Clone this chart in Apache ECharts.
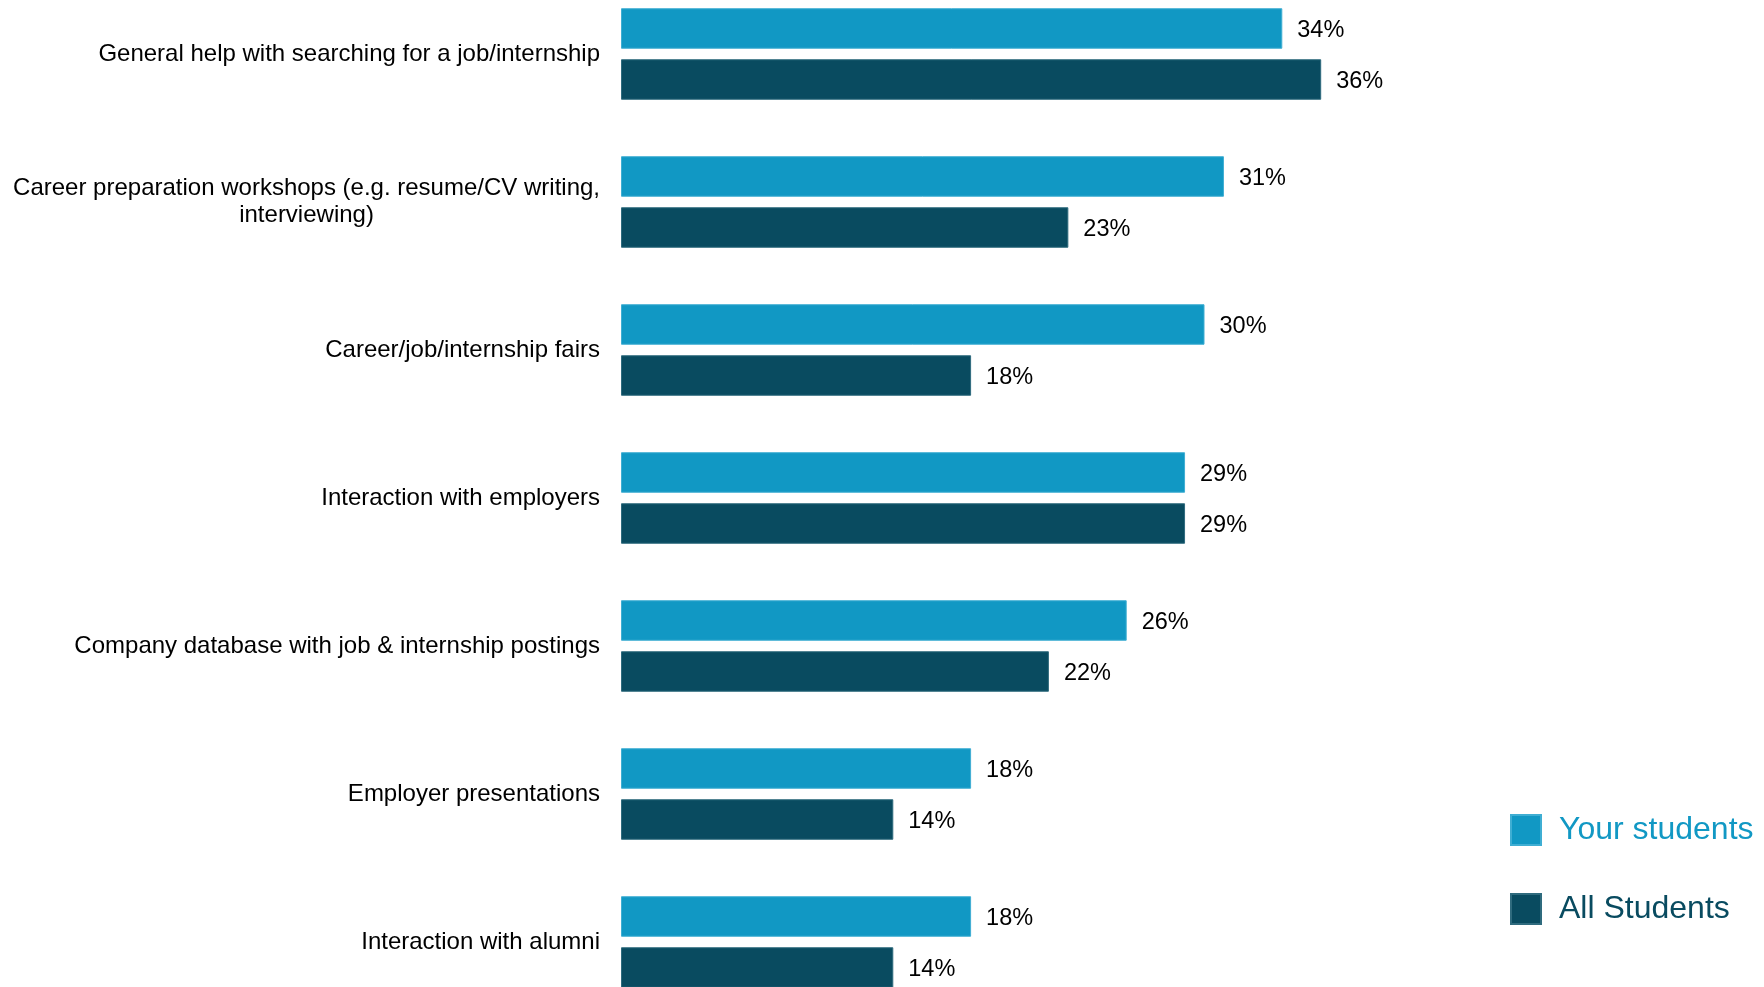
<!DOCTYPE html>
<html>
<head>
<meta charset="utf-8">
<style>
  html, body { margin: 0; padding: 0; background: #ffffff; overflow: hidden; width: 1764px; height: 987px; }
  body { position: relative; }
  /* the plot runs past the bottom edge of the page, so the canvas is taller than the window */
  #chart { position: absolute; left: 0; top: -20px; width: 1764px; height: 1036px; }
</style>
<script src="https://cdn.jsdelivr.net/npm/echarts@6/dist/echarts.min.js"></script>
</head>
<body>
<div id="chart"></div>
<script>
// Career service usage: share of students, by service
const categories = [
  'General help with searching for a job/internship',
  'Career preparation workshops (e.g. resume/CV writing,\ninterviewing)',
  'Career/job/internship fairs',
  'Interaction with employers',
  'Company database with job & internship postings',
  'Employer presentations',
  'Interaction with alumni'
];
const yourStudents = [34, 31, 30, 29, 26, 18, 18];
const allStudents = [36, 23, 18, 29, 22, 14, 14];
const seriesNames = ['Your students', 'All Students'];

const lightBlue = '#1198C4';
const darkTeal = '#094B60';

const chart = echarts.init(document.getElementById('chart'));

// every line of a category label is centred inside its right-aligned block
function centredLines(value) {
  return value.split('\n').map(function (line) { return '{c|' + line + '}'; }).join('\n');
}

const valueLabel = {
  show: true,
  position: 'right',
  distance: 15,
  offset: [0, 2],
  formatter: function (p) { return p.value + '%'; },
  color: '#000000',
  fontFamily: 'Liberation Sans, Arial, sans-serif',
  fontSize: 23.5
};

chart.setOption({
  animation: false,
  backgroundColor: '#ffffff',
  grid: {
    left: 621,
    right: 170.5,
    top: 0,
    bottom: 0,
    containLabel: false
  },
  xAxis: {
    type: 'value',
    min: 0,
    max: 50,
    show: false
  },
  yAxis: {
    type: 'category',
    data: categories,
    inverse: true,
    axisLine: { show: false },
    axisTick: { show: false },
    splitLine: { show: false },
    axisLabel: {
      margin: 21,
      align: 'right',
      color: '#000000',
      fontFamily: 'Liberation Sans, Arial, sans-serif',
      fontSize: 24,
      lineHeight: 27,
      formatter: centredLines,
      rich: {
        c: {
          align: 'center',
          color: '#000000',
          fontFamily: 'Liberation Sans, Arial, sans-serif',
          fontSize: 24,
          lineHeight: 27
        }
      }
    }
  },
  legend: {
    orient: 'vertical',
    left: 1510,
    top: 834,
    itemWidth: 30,
    itemHeight: 30,
    itemGap: 47,
    icon: 'rect',
    padding: 0,
    data: [
      { name: seriesNames[0], textStyle: { color: lightBlue } },
      { name: seriesNames[1], textStyle: { color: darkTeal } }
    ],
    textStyle: {
      fontFamily: 'Liberation Sans, Arial, sans-serif',
      fontSize: 32,
      padding: [0, 0, 0, 13]
    }
  },
  series: [
    {
      name: seriesNames[0],
      type: 'bar',
      data: yourStudents,
      barWidth: 40.5,
      barGap: '26%',
      itemStyle: { color: lightBlue, borderColor: '#3FAED3', borderWidth: 1 },
      label: valueLabel
    },
    {
      name: seriesNames[1],
      type: 'bar',
      data: allStudents,
      barWidth: 40.5,
      barGap: '26%',
      itemStyle: { color: darkTeal, borderColor: '#2F6B7E', borderWidth: 1 },
      label: valueLabel
    }
  ]
});
</script>
</body>
</html>
